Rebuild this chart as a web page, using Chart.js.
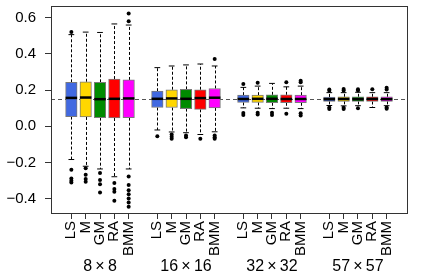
<!DOCTYPE html>
<html>
<head>
<meta charset="utf-8">
<script src="https://cdn.jsdelivr.net/npm/chart.js@4"></script>
<style>
  body { margin: 0; background: #fff; }
</style>
</head>
<body>
<canvas id="myChart" width="422" height="273"></canvas>
<script>
// categories
var methods = ['LS', 'M', 'GM', 'RA', 'BMM'];
var sizes = ['8\u2009\u00d7\u20098', '16\u2009\u00d7\u200916', '32\u2009\u00d7\u200932', '57\u2009\u00d7\u200957'];
var colors = ['#4169e1', '#ffd700', '#008b00', '#ff0000', '#ff00ff'];
var yTicks = [-0.4, -0.2, 0.0, 0.2, 0.4, 0.6];
var yTickLabels = ['\u22120.4', '\u22120.2', '0.0', '0.2', '0.4', '0.6'];
var refLine = 0.15;

// box stats, order: 8x8 (LS..BMM), 16x16, 32x32, 57x57
var lowWhisker = [-0.183, -0.220, -0.235, -0.278, -0.235,
                  -0.020, -0.031, -0.035, -0.045, -0.030,
                   0.102,  0.100,  0.098,  0.100,  0.098,
                   0.115,  0.113,  0.114,  0.104,  0.114];
var q1 = [0.054, 0.052, 0.048, 0.046, 0.048,
          0.104, 0.104, 0.098, 0.094, 0.102,
          0.132, 0.132, 0.130, 0.130, 0.130,
          0.138, 0.138, 0.138, 0.137, 0.138];
var median = [0.157, 0.159, 0.150, 0.152, 0.154,
              0.152, 0.154, 0.152, 0.156, 0.158,
              0.151, 0.152, 0.152, 0.151, 0.151,
              0.150, 0.151, 0.150, 0.151, 0.150];
var q3 = [0.243, 0.246, 0.243, 0.261, 0.256,
          0.194, 0.202, 0.204, 0.202, 0.209,
          0.172, 0.172, 0.174, 0.174, 0.172,
          0.162, 0.163, 0.163, 0.163, 0.163];
var highWhisker = [0.506, 0.520, 0.518, 0.565, 0.559,
                   0.324, 0.333, 0.339, 0.344, 0.333,
                   0.215, 0.222, 0.237, 0.218, 0.222,
                   0.186, 0.186, 0.188, 0.186, 0.186];
var outliers = [
  [0.520, -0.239, -0.287, -0.300, -0.310],
  [-0.231, -0.267, -0.290, -0.305],
  [-0.257, -0.296, -0.319, -0.365],
  [-0.313, -0.346, -0.361, -0.411],
  [0.580, 0.622, -0.276, -0.324, -0.352, -0.374, -0.398, -0.420, -0.444],
  [-0.054],
  [-0.045, -0.057, -0.068],
  [-0.050, -0.060],
  [-0.069],
  [0.372, -0.050, -0.060, -0.069],
  [0.233, 0.074, 0.063],
  [0.240, 0.075, 0.065],
  [0.075, 0.063],
  [0.243, 0.070],
  [0.244, 0.252, 0.072, 0.060],
  [0.196, 0.204, 0.104, 0.096],
  [0.198, 0.206, 0.102, 0.096],
  [0.198, 0.205, 0.100],
  [0.205],
  [0.204, 0.213, 0.104, 0.097]
];

// x position of each box: 5 per group, one empty slot between groups
var positions = [];
for (var g = 0; g < sizes.length; g++) {
  for (var m = 0; m < methods.length; m++) positions.push(g * 6 + m + 1);
}
var groupCenters = sizes.map(function (s, g) { return g * 6 + 3; });

var boxWidth = 11.5;

var boxData = positions.map(function (p, i) { return { x: p, y: [q1[i], q3[i]] }; });
var outlierData = [];
outliers.forEach(function (list, i) {
  list.forEach(function (v) { outlierData.push({ x: positions[i], y: v }); });
});

function noPad(s) {
  s.paddingTop = 0; s.paddingBottom = 0; s.paddingLeft = 0; s.paddingRight = 0;
}

var boxExtras = {
  id: 'boxExtras',
  beforeDatasetsDraw: function (chart) {
    var ctx = chart.ctx, area = chart.chartArea;
    var x = chart.scales.x, y = chart.scales.y;
    ctx.save();
    ctx.lineWidth = 1;
    ctx.strokeStyle = '#555';
    ctx.setLineDash([4, 3]);
    var ry = Math.round(y.getPixelForValue(refLine)) + 0.5;
    ctx.beginPath();
    ctx.moveTo(area.left, ry);
    ctx.lineTo(area.right, ry);
    ctx.stroke();

    ctx.strokeStyle = '#000';
    ctx.setLineDash([3, 2]);
    positions.forEach(function (p, i) {
      var px = Math.round(x.getPixelForValue(p)) + 0.5;
      ctx.beginPath();
      ctx.moveTo(px, y.getPixelForValue(q3[i]));
      ctx.lineTo(px, y.getPixelForValue(highWhisker[i]));
      ctx.moveTo(px, y.getPixelForValue(q1[i]));
      ctx.lineTo(px, y.getPixelForValue(lowWhisker[i]));
      ctx.stroke();
    });
    ctx.setLineDash([]);
    positions.forEach(function (p, i) {
      var px = x.getPixelForValue(p);
      var hw = boxWidth / 4;
      ctx.beginPath();
      ctx.moveTo(px - hw, y.getPixelForValue(highWhisker[i]));
      ctx.lineTo(px + hw, y.getPixelForValue(highWhisker[i]));
      ctx.moveTo(px - hw, y.getPixelForValue(lowWhisker[i]));
      ctx.lineTo(px + hw, y.getPixelForValue(lowWhisker[i]));
      ctx.stroke();
    });
    ctx.restore();
  },
  afterDatasetsDraw: function (chart) {
    var ctx = chart.ctx, area = chart.chartArea;
    var x = chart.scales.x, y = chart.scales.y;
    ctx.save();
    ctx.strokeStyle = '#000';
    ctx.lineWidth = 2.5;
    positions.forEach(function (p, i) {
      var px = x.getPixelForValue(p);
      var py = y.getPixelForValue(median[i]);
      ctx.beginPath();
      ctx.moveTo(px - boxWidth / 2, py);
      ctx.lineTo(px + boxWidth / 2, py);
      ctx.stroke();
    });
    // frame around plot region
    ctx.lineWidth = 1;
    ctx.strokeStyle = '#333';
    ctx.strokeRect(Math.round(area.left) + 0.5, Math.round(area.top) + 0.5,
      Math.round(area.right - area.left), Math.round(area.bottom - area.top));
    ctx.restore();
  }
};

Chart.defaults.font.family = "'Liberation Sans', Arial, sans-serif";
Chart.defaults.color = '#000';

var ctx = document.getElementById('myChart').getContext('2d');
var myChart = new Chart(ctx, {
  type: 'bar',
  data: {
    datasets: [{
      type: 'bar',
      data: boxData,
      backgroundColor: positions.map(function (p, i) { return colors[i % 5]; }),
      borderColor: '#7a7a7a',
      borderWidth: 1,
      borderSkipped: false,
      barThickness: boxWidth
    }, {
      type: 'scatter',
      data: outlierData,
      pointRadius: 2,
      pointBackgroundColor: '#000',
      pointBorderWidth: 0
    }]
  },
  options: {
    responsive: false,
    animation: false,
    layout: { padding: { left: 0, right: 15, top: 6, bottom: 0 } },
    plugins: { legend: { display: false }, tooltip: { enabled: false } },
    scales: {
      x: {
        type: 'linear',
        min: -0.42,
        max: 24.42,
        offset: false,
        weight: 0,
        afterBuildTicks: function (s) { s.ticks = positions.map(function (v) { return { value: v }; }); },
        afterFit: function (s) { s.height = 44; noPad(s); },
        ticks: {
          autoSkip: false,
          maxRotation: 90,
          minRotation: 90,
          padding: 2,
          font: { size: 15 },
          callback: function (v, i) { return methods[i % 5]; }
        },
        grid: { offset: false, drawOnChartArea: false, tickLength: 6, color: '#333' },
        border: { display: false }
      },
      x2: {
        type: 'linear',
        position: 'bottom',
        min: -0.42,
        max: 24.42,
        offset: false,
        weight: 1,
        afterBuildTicks: function (s) { s.ticks = groupCenters.map(function (v) { return { value: v }; }); },
        afterFit: function (s) { s.height = 16; noPad(s); },
        ticks: {
          autoSkip: false,
          maxRotation: 0,
          minRotation: 0,
          padding: 0,
          font: { size: 16 },
          callback: function (v, i) { return sizes[i]; }
        },
        grid: { display: false, drawTicks: false },
        border: { display: false }
      },
      y: {
        min: -0.478,
        max: 0.664,
        afterBuildTicks: function (s) { s.ticks = yTicks.map(function (v) { return { value: v }; }); },
        afterFit: function (s) { s.width = 51; noPad(s); },
        ticks: {
          padding: 9,
          font: { size: 15 },
          callback: function (v, i) { return yTickLabels[i]; }
        },
        grid: { drawOnChartArea: false, tickLength: 6, color: '#333' },
        border: { display: false }
      }
    }
  },
  plugins: [boxExtras]
});
</script>
</body>
</html>
